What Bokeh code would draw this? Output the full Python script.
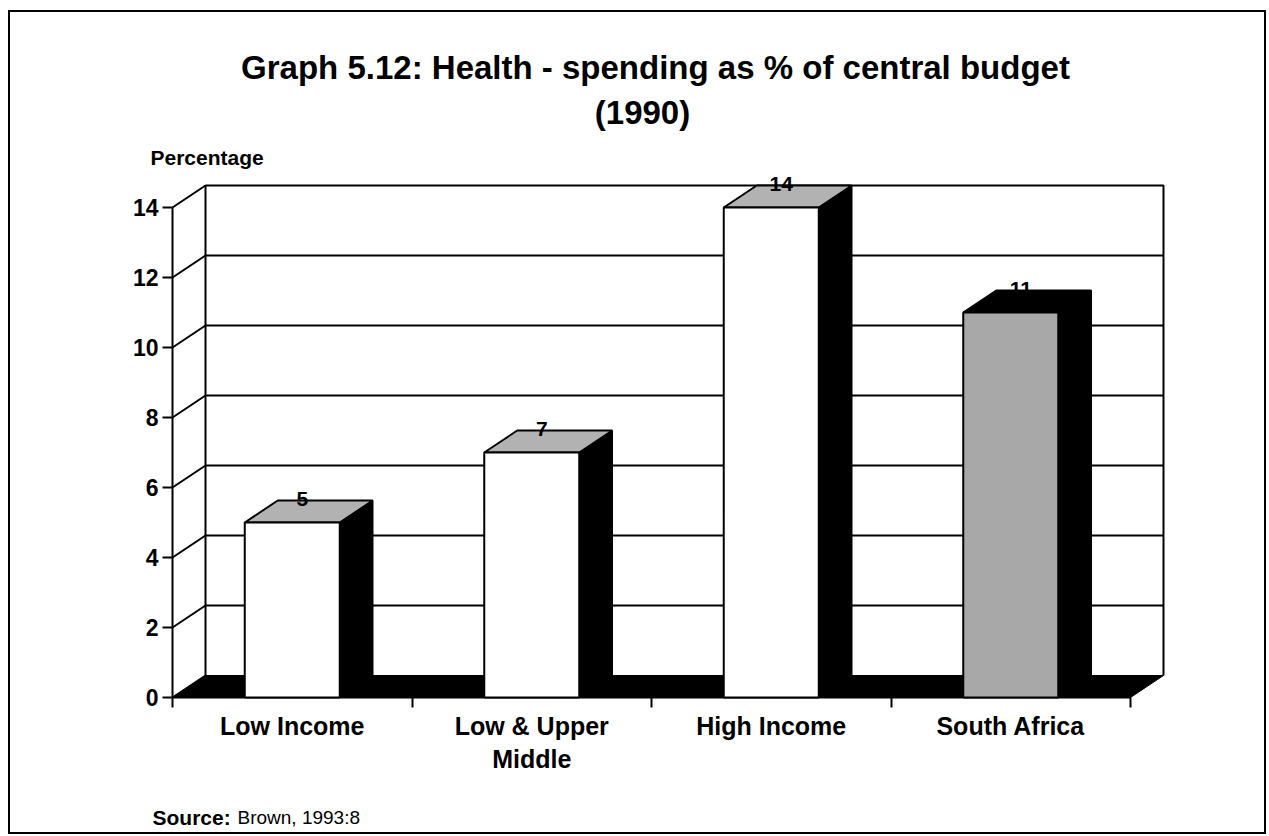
from bokeh.plotting import figure
from bokeh.models import FixedTicker, ColumnDataSource, Range1d
from bokeh.layouts import column
from bokeh.embed import file_html
from bokeh.resources import INLINE
from bokeh.core.properties import value

# ---------------- data ----------------
categories = ["Low Income", "Low & Upper\nMiddle", "High Income", "South Africa"]
values = [5, 7, 14, 11]
value_labels = ["5", "7", "14", "11"]
front_colors = ["white", "white", "white", "#a8a8a8"]
top_colors = ["#b2b2b2", "#b2b2b2", "#b2b2b2", "black"]
y_ticks = [0, 2, 4, 6, 8, 10, 12, 14]
title_line1 = "Graph 5.12: Health - spending as % of central budget"
title_line2 = "(1990)"
y_title = "Percentage"
source_bold = "Source:"
source_text = "Brown, 1993:8"

# ---------------- layout constants (page pixels) ----------------
FONT = "Liberation Sans"
ORIG_X, ORIG_Y = 10, 12          # page position of the content box (inside border)
W = 1254                          # content width
TOP_END = 170                     # page y where the main plot starts
MAIN_END = 790                    # page y where the main figure ends
BOT_END = 832                     # page y where the content ends

PX_X = 239.5          # pixels per category
PX_Y = 35.0           # pixels per percentage point
X0_PAGE, Y0_PAGE = 172.0, 697.0   # page position of data origin
DX = 33 / PX_X        # 3-D depth offset (x)
DY = 22 / PX_Y        # 3-D depth offset (y)
BAR_W = 95 / PX_X
n = len(categories)
ymax = max(y_ticks)

FRAME_W = 1000
FRAME_LEFT_PAGE = X0_PAGE - 3
FRAME_BOTTOM_PAGE = Y0_PAGE + 2
FRAME_H = int(FRAME_BOTTOM_PAGE - TOP_END)
x_start = (FRAME_LEFT_PAGE - X0_PAGE) / PX_X
y_start = (Y0_PAGE - FRAME_BOTTOM_PAGE) / PX_Y
x_end = x_start + FRAME_W / PX_X
y_end = y_start + FRAME_H / PX_Y

mb_left = int(FRAME_LEFT_PAGE - ORIG_X)
mb_right = W - mb_left - FRAME_W
mb_bottom = int(MAIN_END - FRAME_BOTTOM_PAGE)


def text_fig(height):
    f = figure(width=W, height=height, x_range=Range1d(0, W), y_range=Range1d(height, 0),
               min_border=0, output_backend="svg", toolbar_location=None,
               background_fill_color="white", border_fill_color="white",
               frame_align=False)
    f.axis.visible = False
    f.grid.visible = False
    f.outline_line_color = None
    return f


def put_text(f, top, text, xpage, ypage, size, bold=True, align="left"):
    f.text(x=[xpage - ORIG_X], y=[ypage - top], text=[text],
           text_font=value(FONT), text_font_style="bold" if bold else "normal",
           text_font_size=size, text_align=align, text_baseline="middle",
           text_color="black")


# ---------------- top: titles ----------------
top_fig = text_fig(TOP_END - ORIG_Y)
put_text(top_fig, ORIG_Y, title_line1, 655, 67, "33px", align="center")
put_text(top_fig, ORIG_Y, title_line2, 642, 112, "33px", align="center")
put_text(top_fig, ORIG_Y, y_title, 150, 157, "21px")

# ---------------- main chart ----------------
p = figure(frame_width=FRAME_W, frame_height=FRAME_H,
           min_border_left=mb_left, min_border_right=mb_right,
           min_border_top=0, min_border_bottom=mb_bottom,
           x_range=(x_start, x_end), y_range=(y_start, y_end),
           output_backend="svg", toolbar_location=None,
           background_fill_color="white", border_fill_color="white",
           frame_align=False)
p.outline_line_color = None
p.grid.visible = False

# back wall
p.quad(left=[DX], right=[n + DX], bottom=[DY], top=[ymax + DY],
       fill_color="white", line_color=None)
# left wall
p.patch([0, DX, DX, 0], [0, DY, ymax + DY, ymax], fill_color="white", line_color=None)

grid_vals = [t for t in y_ticks if 0 < t < ymax]
p.segment(x0=[DX] * len(grid_vals), y0=[g + DY for g in grid_vals],
          x1=[n + DX] * len(grid_vals), y1=[g + DY for g in grid_vals],
          line_color="black", line_width=2)
p.segment(x0=[0] * len(y_ticks), y0=list(y_ticks),
          x1=[DX] * len(y_ticks), y1=[t + DY for t in y_ticks],
          line_color="black", line_width=2)
p.line([DX, DX, n + DX, n + DX], [DY, ymax + DY, ymax + DY, DY],
       line_color="black", line_width=2)

# floor
p.patch([0, n, n + DX, DX], [0, 0, DY, DY], fill_color="black", line_color="black", line_width=1)
p.line([0, n], [0, 0], line_color="black", line_width=2)
p.line([0, 0], [0, ymax], line_color="black", line_width=2)

# bars
centers = [i + 0.5 for i in range(n)]
lefts = [c - BAR_W / 2 for c in centers]
rights = [c + BAR_W / 2 for c in centers]

side_src = ColumnDataSource(dict(
    xs=[[r, r + DX, r + DX, r] for r in rights],
    ys=[[0, DY, v + DY, v] for v in values]))
p.patches("xs", "ys", source=side_src, fill_color="black", line_color="black", line_width=1.5)

top_src = ColumnDataSource(dict(
    xs=[[l, r, r + DX, l + DX] for l, r in zip(lefts, rights)],
    ys=[[v, v, v + DY, v + DY] for v in values],
    color=top_colors))
p.patches("xs", "ys", source=top_src, fill_color="color", line_color="black", line_width=2)

front_src = ColumnDataSource(dict(left=lefts, right=rights, top=values,
                                  bottom=[0] * n, color=front_colors))
p.quad(left="left", right="right", top="top", bottom="bottom", source=front_src,
       fill_color="color", line_color="black", line_width=2)

lab_src = ColumnDataSource(dict(x=[c + 10 / PX_X for c in centers],
                                y=[v + 24 / PX_Y for v in values],
                                text=value_labels))
p.text(x="x", y="y", text="text", source=lab_src,
       text_font=value(FONT), text_font_style="bold", text_font_size="21px",
       text_align="center", text_baseline="middle", text_color="black")

# axes
ya = p.yaxis[0]
ya.ticker = FixedTicker(ticks=y_ticks)
ya.axis_line_color = None
ya.major_tick_out = 7
ya.major_tick_in = 3
ya.major_tick_line_width = 2
ya.minor_tick_out = 0
ya.minor_tick_in = 0
ya.major_label_standoff = 4
ya.major_label_text_font = FONT
ya.major_label_text_font_style = "bold"
ya.major_label_text_font_size = "23px"
ya.major_label_text_color = "black"

xa = p.xaxis[0]
xa.ticker = FixedTicker(ticks=centers, minor_ticks=list(range(n + 1)))
xa.major_label_overrides = {c: lab for c, lab in zip(centers, categories)}
xa.axis_line_color = None
xa.major_tick_out = 0
xa.major_tick_in = 0
xa.minor_tick_out = 8
xa.minor_tick_in = 2
xa.minor_tick_line_width = 2
xa.minor_tick_line_color = "black"
xa.major_label_standoff = 4
xa.major_label_text_font = FONT
xa.major_label_text_font_style = "bold"
xa.major_label_text_font_size = "25px"
xa.major_label_text_color = "black"

# ---------------- bottom: source ----------------
bot_fig = text_fig(BOT_END - MAIN_END)
put_text(bot_fig, MAIN_END, source_bold, 152, 817, "21px")
put_text(bot_fig, MAIN_END, source_text, 237, 817, "19px", bold=False)

layout = column(top_fig, p, bot_fig, spacing=0,
                styles={"border": "2px solid black", "margin-left": "8px", "margin-top": "10px"})

open("out.html", "w").write(file_html(layout, INLINE))
